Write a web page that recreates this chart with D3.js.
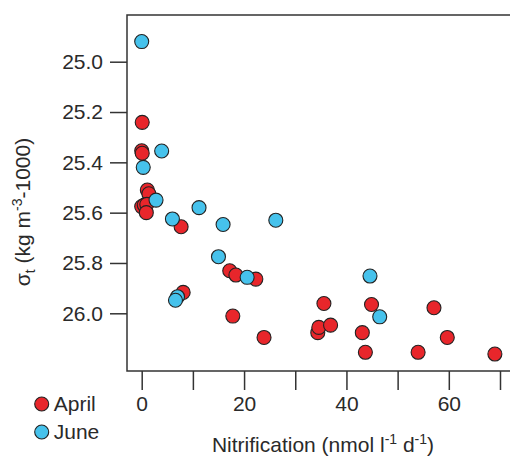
<!DOCTYPE html>
<html lang="en">
<head>
  <meta charset="utf-8">
  <title>Density vs nitrification</title>
  <style type="text/css">
    body { margin: 0; background: #fff; }
    svg text { font-family: "Liberation Sans", Arial, Helvetica, sans-serif; fill: #2a2a2a; }
  </style>
</head>
<body>
  <div id="graphic"></div>

  <script src="https://cdn.jsdelivr.net/npm/d3@7/dist/d3.min.js"></script>
  <script>
    // April samples: nitrification (nmol l-1 d-1) and sigma-t
    var aprilNitr  = [0.1, 0.0, 0.1, 1.1, 1.4, 0.0, 0.5, 1.0, 0.9, 7.7, 8.1, 17.2, 18.4, 22.3, 17.8, 23.9, 35.6, 34.4, 34.6, 36.9, 43.1, 44.9, 43.7, 54.0, 57.1, 59.7, 69.0];
    var aprilSigma = [25.241, 25.354, 25.364, 25.51, 25.525, 25.576, 25.57, 25.567, 25.60, 25.656, 25.917, 25.831, 25.848, 25.864, 26.011, 26.096, 25.961, 26.077, 26.056, 26.047, 26.077, 25.965, 26.155, 26.155, 25.978, 26.096, 26.162];

    // June samples
    var juneNitr  = [0.0, 3.9, 0.3, 2.8, 6.0, 11.2, 15.9, 26.2, 15.0, 20.6, 7.0, 6.6, 44.6, 46.5];
    var juneSigma = [24.92, 25.355, 25.42, 25.55, 25.625, 25.58, 25.647, 25.63, 25.775, 25.857, 25.934, 25.948, 25.852, 26.014];

    var yTicks = [25.0, 25.2, 25.4, 25.6, 25.8, 26.0];
    var xTicks = [0, 10, 20, 30, 40, 50, 60, 70];
    var xLabelled = [0, 20, 40, 60];

    var seriesNames = ['April', 'June'];
    var seriesColours = ['#e8262b', '#46c2ec'];

    var width = 510, height = 459;
    var frame = {left: 127, top: 15, bottom: 371, right: 512};
    var fontSize = 21;

    var svg = d3.select('#graphic').append('svg')
      .attr('width', width)
      .attr('height', height);

    var x = d3.scaleLinear().domain([0, 70]).range([141.7, 500]);
    var y = d3.scaleLinear().domain([25, 26]).range([61.7, 313.3]);

    // frame: left, top and bottom lines
    svg.append('path')
      .attr('d', 'M' + frame.right + ',' + frame.top + 'H' + frame.left + 'V' + frame.bottom + 'H' + frame.right)
      .attr('fill', 'none')
      .attr('stroke', '#333')
      .attr('stroke-width', 1.5);

    var yAxis = svg.append('g')
      .attr('transform', 'translate(' + frame.left + ',0)')
      .call(d3.axisLeft(y).tickValues(yTicks).tickFormat(d3.format('.1f')).tickSize(17).tickPadding(7));

    var xAxis = svg.append('g')
      .attr('transform', 'translate(0,' + frame.bottom + ')')
      .call(d3.axisBottom(x).tickValues(xTicks)
        .tickFormat(function(d){ return xLabelled.indexOf(d) >= 0 ? d : ''; })
        .tickSize(19).tickPadding(6));

    [yAxis, xAxis].forEach(function(ax){
      ax.select('.domain').remove();
      ax.selectAll('line').attr('stroke', '#333').attr('stroke-width', 1.5);
      ax.selectAll('text').style('font-size', fontSize + 'px').attr('fill', '#2a2a2a')
        .style('font-family', '"Liberation Sans", Arial, sans-serif');
    });

    // points
    var series = [
      {name: 'April', xs: aprilNitr, ys: aprilSigma},
      {name: 'June', xs: juneNitr, ys: juneSigma}
    ];
    series.forEach(function(s, si){
      svg.append('g').selectAll('circle')
        .data(s.xs.map(function(v, i){ return {x: v, y: s.ys[i]}; }))
        .enter()
        .append('circle')
          .attr('cx', function(d){ return x(d.x); })
          .attr('cy', function(d){ return y(d.y); })
          .attr('r', 7)
          .attr('fill', seriesColours[si])
          .attr('stroke', '#222')
          .attr('stroke-width', 1.1);
    });

    // axis titles
    var xt = svg.append('text')
      .attr('x', 323).attr('y', 452)
      .attr('text-anchor', 'middle')
      .style('font-size', fontSize + 'px');
    xt.append('tspan').text('Nitrification (nmol l');
    xt.append('tspan').attr('dy', -8).style('font-size', '14px').text('-1');
    xt.append('tspan').attr('dy', 8).text(' d');
    xt.append('tspan').attr('dy', -8).style('font-size', '14px').text('-1');
    xt.append('tspan').attr('dy', 8).text(')');

    var yt = svg.append('text')
      .attr('transform', 'translate(30,212) rotate(-90)')
      .attr('text-anchor', 'middle')
      .style('font-size', fontSize + 'px');
    yt.append('tspan').text('σ');
    yt.append('tspan').attr('dy', 5).style('font-size', '14px').text('t');
    yt.append('tspan').attr('dy', -5).text(' (kg m');
    yt.append('tspan').attr('dy', -8).style('font-size', '14px').text('-3');
    yt.append('tspan').attr('dy', 8).text('-1000)');

    // legend
    var legend = svg.append('g').selectAll('g')
      .data(seriesNames)
      .enter()
      .append('g')
      .attr('transform', function(d, i){ return 'translate(41.7,' + (404 + i * 28) + ')'; });
    legend.append('circle')
      .attr('r', 7)
      .attr('fill', function(d, i){ return seriesColours[i]; })
      .attr('stroke', '#222')
      .attr('stroke-width', 1.1);
    legend.append('text')
      .attr('x', 12).attr('y', 7)
      .style('font-size', fontSize + 'px')
      .text(function(d){ return d; });
  </script>
</body>
</html>
